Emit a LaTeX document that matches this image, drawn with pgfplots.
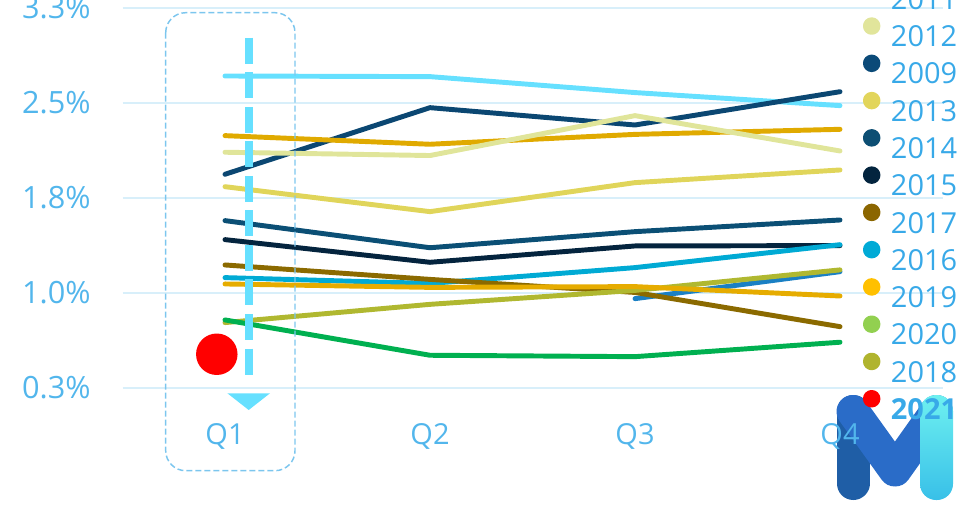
\documentclass[border=0pt]{standalone}
\usepackage{pgfplots}
\pgfplotsset{compat=1.18}
\usepackage{fontspec}
\setmainfont{Open Sans}

\definecolor{gridc}{HTML}{D8EFFA}
\definecolor{tickc}{HTML}{52B6EC}
\definecolor{legc}{HTML}{38A9E8}
\definecolor{boxc}{HTML}{7CC6EE}
\definecolor{arrc}{HTML}{66E0FF}
% line colours
\definecolor{lcyan}{HTML}{66E0FF}
\definecolor{l2009}{HTML}{0B4772}
\definecolor{l2011}{HTML}{E0AA00}
\definecolor{l2012}{HTML}{E0E59A}
\definecolor{l2013}{HTML}{E0D55A}
\definecolor{l2014}{HTML}{0B4F75}
\definecolor{l2015}{HTML}{04243E}
\definecolor{l2017}{HTML}{8B6A00}
\definecolor{l2016}{HTML}{00AAD4}
\definecolor{l2019}{HTML}{E6AC00}
\definecolor{lblue}{HTML}{1A80C4}
\definecolor{l2018}{HTML}{B0B830}
\definecolor{lgreen}{HTML}{00B050}
% legend dot colours
\definecolor{d2011}{HTML}{E6A800}
\definecolor{d2012}{HTML}{E1E59B}
\definecolor{d2009}{HTML}{0B4A78}
\definecolor{d2013}{HTML}{E2D55B}
\definecolor{d2014}{HTML}{0D4E73}
\definecolor{d2015}{HTML}{03243E}
\definecolor{d2017}{HTML}{8B6600}
\definecolor{d2016}{HTML}{00AAD6}
\definecolor{d2019}{HTML}{FFC000}
\definecolor{d2020}{HTML}{92D050}
\definecolor{d2018}{HTML}{B0B42E}
\definecolor{d2021}{HTML}{FF0000}

\pgfplotsset{legdot/.style={legend image code/.code={\fill[#1] (0pt,7.75pt) circle (4.7pt);}}}

\begin{document}
\begin{tikzpicture}
\useasboundingbox (0,0) rectangle (725.25pt,391.5pt);
\clip (0,0) rectangle (725.25pt,391.5pt);

% logo (behind the chart), coordinates in pixels
\begin{scope}[x=0.75pt,y=-0.75pt,shift={(0pt,391.5pt)}]
  \draw[color={rgb,255:red,31;green,94;blue,166}, line width=24.75pt, line cap=round]
    (853,411.5) -- (853,483.5);
  \draw[color={rgb,255:red,42;green,108;blue,200}, line width=24.75pt, line cap=round, line join=round]
    (853,411.5) -- (895,470) -- (936.5,411.5);
  \shade[top color={rgb,255:red,110;green,240;blue,240}, bottom color={rgb,255:red,56;green,192;blue,232}, rounded corners=12pt]
    (920,395) rectangle (953,500);
\end{scope}

\begin{axis}[
  at={(91.875pt,82.5pt)}, anchor=south west,
  scale only axis, width=615pt, height=309pt,
  xmin=-0.5, xmax=3.5, ymin=0.06, ymax=3.313,
  clip=false,
  axis line style={draw=none},
  major tick length=0pt,
  xtick={0,1,2,3}, xticklabels={Q1,Q2,Q3,Q4},
  ytick={0.25,1,1.75,2.5,3.25},
  yticklabels={0.3\%,1.0\%,1.8\%,2.5\%,3.3\%},
  ymajorgrids,
  grid style={line width=1.5pt, color=gridc},
  tick label style={text=tickc},
  yticklabel style={font=\fontsize{23}{27}\selectfont, inner sep=0pt, anchor=east, xshift=-23.7pt},
  xticklabel style={font=\fontsize{21.7}{26}\selectfont, inner sep=0pt, anchor=north, yshift=-8.25pt},
  every axis plot/.append style={line width=3.7pt, line cap=round, line join=round},
  legend cell align=left,
  legend style={at={(0.9030,1.0484)}, anchor=north west, draw=none, fill=none,
    inner sep=0pt, outer sep=0pt, row sep=5.9pt, column sep=7.9pt,
    font=\fontsize{21.7}{26}\selectfont, text=legc,
    nodes={inner sep=0pt, text height=15.5pt, text depth=0pt}},
]
\addplot[lcyan, forget plot] coordinates {(0,2.713) (1,2.708) (2,2.582) (3,2.479)};
\addplot[l2009, forget plot] coordinates {(0,1.937) (1,2.463) (2,2.326) (3,2.589)};
\addplot[l2011, forget plot] coordinates {(0,2.242) (1,2.174) (2,2.252) (3,2.292)};
\addplot[l2012, forget plot] coordinates {(0,2.111) (1,2.085) (2,2.400) (3,2.121)};
\addplot[l2013, forget plot] coordinates {(0,1.839) (1,1.642) (2,1.871) (3,1.971)};
\addplot[l2014, forget plot] coordinates {(0,1.571) (1,1.357) (2,1.484) (3,1.576)};
\addplot[l2015, forget plot] coordinates {(0,1.421) (1,1.242) (2,1.371) (3,1.374)};
\addplot[l2016, forget plot] coordinates {(0,1.121) (1,1.075) (2,1.200) (3,1.381)};
\addplot[lblue, forget plot] coordinates {(2,0.955) (3,1.168)};
\addplot[l2017, forget plot] coordinates {(0,1.221) (1,1.107) (2,1.004) (3,0.734)};
\addplot[l2018, forget plot] coordinates {(0,0.766) (1,0.910) (2,1.020) (3,1.182)};
\addplot[l2019, forget plot] coordinates {(0,1.071) (1,1.044) (2,1.050) (3,0.976)};
\addplot[lgreen, forget plot] coordinates {(0,0.787) (1,0.508) (2,0.497) (3,0.611)};
\addplot[only marks, mark=*, mark size=13.7pt, color=d2021, forget plot] coordinates {(-0.04,0.516)};

\addlegendimage{legdot=d2011}
\addlegendimage{legdot=d2012}
\addlegendimage{legdot=d2009}
\addlegendimage{legdot=d2013}
\addlegendimage{legdot=d2014}
\addlegendimage{legdot=d2015}
\addlegendimage{legdot=d2017}
\addlegendimage{legdot=d2016}
\addlegendimage{legdot=d2019}
\addlegendimage{legdot=d2020}
\addlegendimage{legdot=d2018}
\addlegendimage{legdot=d2021}
\legend{2011,2012,2009,2013,2014,2015,2017,2016,2019,2020,2018,\textbf{2021}}
\end{axis}

% annotations, coordinates in pixels
\begin{scope}[x=0.75pt,y=-0.75pt,shift={(0pt,391.5pt)}]
  \draw[boxc, line width=1.1pt, dash pattern=on 4.5pt off 2.25pt, rounded corners=15pt]
    (165.7,12.7) rectangle (295,470.7);
  \draw[arrc, line width=6pt, dash pattern=on 19.5pt off 6.4pt] (248.7,37.7) -- (248.7,375.7);
  \fill[arrc] (227.4,393.3) -- (270,393.3) -- (248.7,410) -- cycle;
\end{scope}
\end{tikzpicture}
\end{document}
